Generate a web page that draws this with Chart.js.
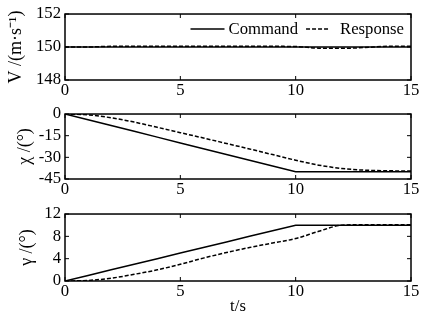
<!DOCTYPE html>
<html>
<head>
<meta charset="utf-8">
<script src="https://cdn.jsdelivr.net/npm/chart.js@4"></script>
<style>
  html, body { margin: 0; padding: 0; background: #fff; }
  #marcoGraficas { position: relative; width: 422px; height: 322px; }
  canvas { position: absolute; left: 0; }
</style>
</head>
<body>
<div id="marcoGraficas">
  <canvas id="graficaV" width="422" height="100" style="top:0px"></canvas>
  <canvas id="graficaChi" width="422" height="100" style="top:100px"></canvas>
  <canvas id="graficaGamma" width="422" height="122" style="top:200px"></canvas>
</div>
<script>
// datos
const tiempo = [0, 1, 2, 3, 4, 5, 6, 7, 8, 9, 10, 11, 12, 13, 14, 15];
const nombresSeries = ["Command", "Response"];

const vCommand  = [150, 150, 150, 150, 150, 150, 150, 150, 150, 150, 150, 150, 150, 150, 150, 150];
const vResponse = [150, 150, 150.04, 150.04, 150.04, 150.04, 150.04, 150.04, 150.04, 150.04, 150.03, 149.93, 149.92, 149.97, 150.04, 150.04];

const chiCommand  = [0, -4, -8, -12, -16, -20, -24, -28, -32, -36, -40, -40, -40, -40, -40, -40];
const chiResponse = [0, -0.6, -2.6, -5.6, -9.2, -12.9, -16.6, -20.4, -24.2, -28.1, -32, -35.4, -37.7, -38.9, -39.3, -39.5];

const gammaCommand  = [0, 1, 2, 3, 4, 5, 6, 7, 8, 9, 10, 10, 10, 10, 10, 10];
const gammaResponse = [0, 0.1, 0.5, 1.2, 2, 3, 4.1, 5.1, 6, 6.8, 7.6, 8.9, 10, 10.1, 10.1, 10.1];

const ticksX = [0, 5, 10, 15];
const ticksV = [148, 150, 152];
const ticksChi = [-45, -30, -15, 0];
const ticksGamma = [0, 4, 8, 12];

const fuente = { family: "'Liberation Serif', 'Times New Roman', serif", size: 16.7 };
const fuenteTitulo = { family: "'Liberation Serif', 'Times New Roman', serif", size: 18 };

// caja tipo MATLAB con marcas hacia dentro
const marco = {
  id: "marco",
  afterDatasetsDraw(chart) {
    const ctx = chart.ctx, a = chart.chartArea;
    const x = chart.scales.x, y = chart.scales.y;
    ctx.save();
    ctx.strokeStyle = "#000";
    ctx.lineWidth = 1;
    ctx.beginPath();
    x.ticks.forEach(t => {
      const px = x.getPixelForValue(t.value);
      ctx.moveTo(px, a.top); ctx.lineTo(px, a.top + 4);
      ctx.moveTo(px, a.bottom); ctx.lineTo(px, a.bottom - 4);
    });
    y.ticks.forEach(t => {
      const py = y.getPixelForValue(t.value);
      ctx.moveTo(a.left, py); ctx.lineTo(a.left + 4, py);
      ctx.moveTo(a.right, py); ctx.lineTo(a.right - 4, py);
    });
    ctx.stroke();
    ctx.lineWidth = 1.5;
    ctx.strokeRect(a.left, a.top, a.right - a.left, a.bottom - a.top);
    ctx.restore();
  }
};

// leyenda dentro del area de la grafica (arriba a la derecha)
const leyendaDentro = {
  id: "leyendaDentro",
  afterDatasetsDraw(chart) {
    const ctx = chart.ctx, a = chart.chartArea;
    const yMid = a.top + 16;
    ctx.save();
    ctx.font = fuente.size + "px " + fuente.family;
    ctx.textBaseline = "middle";
    ctx.fillStyle = "#000";
    let xDer = a.right - 7;
    for (let i = chart.data.datasets.length - 1; i >= 0; i--) {
      const ds = chart.data.datasets[i];
      const w = ctx.measureText(ds.label).width;
      const xTexto = xDer - w;
      ctx.fillText(ds.label, xTexto, yMid);
      const fin = xTexto - (i === 0 ? 4 : 10);
      const inicio = fin - (i === 0 ? 34 : 24);
      ctx.strokeStyle = ds.borderColor;
      ctx.lineWidth = ds.borderWidth;
      ctx.setLineDash(ds.borderDash || []);
      ctx.beginPath();
      ctx.moveTo(inicio, yMid - 1);
      ctx.lineTo(fin, yMid - 1);
      ctx.stroke();
      xDer = inicio - 8;
    }
    ctx.restore();
  }
};

function puntos(valores) {
  return tiempo.map((t, i) => ({ x: t, y: valores[i] }));
}

function crearPanel(id, cmd, resp, ticksY, tituloY, padTitulo, cfg) {
  const plugins = [marco];
  if (cfg.leyenda) plugins.push(leyendaDentro);
  return new Chart(document.getElementById(id).getContext("2d"), {
    type: "line",
    data: {
      datasets: [{
        label: nombresSeries[0],
        data: puntos(cmd),
        borderColor: "#000",
        borderWidth: 1.5,
        pointRadius: 0,
        tension: 0
      }, {
        label: nombresSeries[1],
        data: puntos(resp),
        borderColor: "#000",
        borderWidth: 1.5,
        borderDash: [4, 2],
        pointRadius: 0,
        cubicInterpolationMode: "monotone"
      }]
    },
    options: {
      responsive: false,
      animation: false,
      events: [],
      layout: { padding: { top: cfg.arriba, right: 11, left: 0, bottom: 0 } },
      plugins: { legend: { display: false }, tooltip: { enabled: false } },
      scales: {
        x: {
          type: "linear",
          min: ticksX[0],
          max: ticksX[ticksX.length - 1],
          afterBuildTicks: s => { s.ticks = ticksX.map(v => ({ value: v })); },
          afterFit: s => { s.height = cfg.altoX; },
          grid: { display: false, drawTicks: false },
          border: { display: false },
          ticks: { color: "#000", font: fuente, padding: 1, maxRotation: 0, autoSkip: false },
          title: {
            display: !!cfg.tituloX,
            text: cfg.tituloX || "",
            color: "#000",
            font: fuente,
            padding: { top: 0, bottom: 5 }
          }
        },
        y: {
          min: ticksY[0],
          max: ticksY[ticksY.length - 1],
          afterBuildTicks: s => { s.ticks = ticksY.map(v => ({ value: v })); },
          afterFit: s => { s.width = 65; },
          grid: { display: false, drawTicks: false },
          border: { display: false },
          ticks: { color: "#000", font: fuente, padding: 4, autoSkip: false },
          title: {
            display: true,
            text: tituloY,
            color: "#000",
            font: fuenteTitulo,
            padding: { top: padTitulo, bottom: 0 }
          }
        }
      }
    },
    plugins: plugins
  });
}

crearPanel("graficaV", vCommand, vResponse, ticksV, "V /(m·s⁻¹)", 5, { arriba: 12, altoX: 20, leyenda: true });
crearPanel("graficaChi", chiCommand, chiResponse, ticksChi, "χ /(°)", 14, { arriba: 12, altoX: 21 });
crearPanel("graficaGamma", gammaCommand, gammaResponse, ticksGamma, "γ /(°)", 16, { arriba: 14, altoX: 41, tituloX: "t/s" });
</script>
</body>
</html>
